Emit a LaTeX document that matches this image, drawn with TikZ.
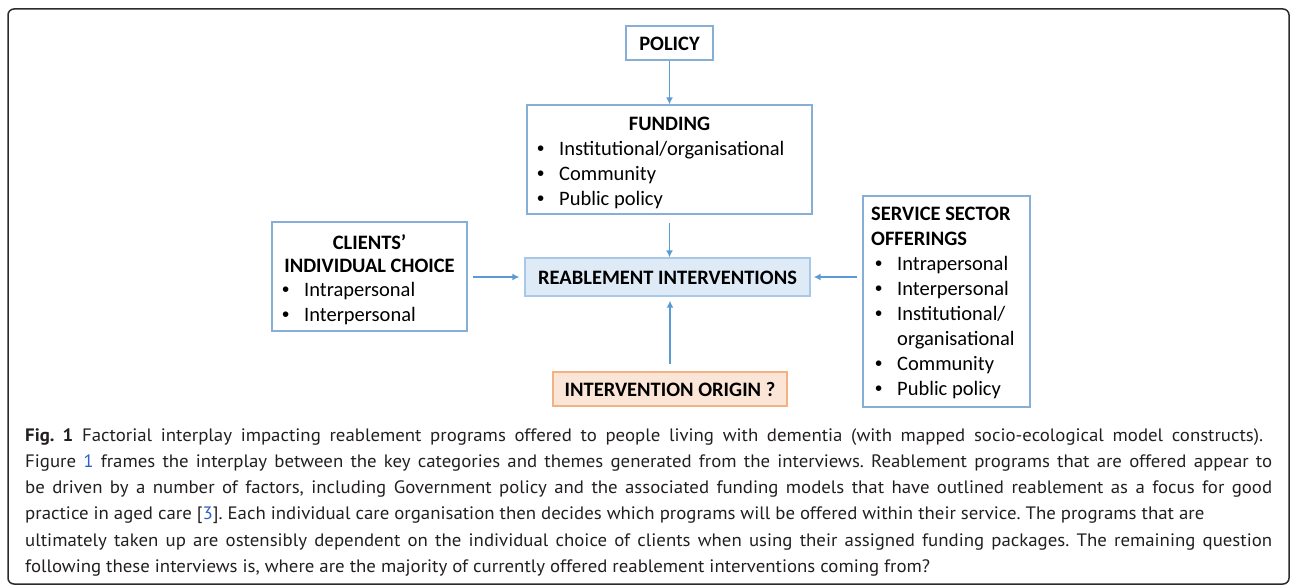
\documentclass[tikz,border=0pt]{standalone}
\usepackage{fontspec}
\usepackage{graphicx}
\usetikzlibrary{arrows.meta}
\setmainfont{Carlito}
\newfontfamily\capfont{PT Sans}
\newfontfamily\bulfont{Liberation Sans}
\frenchspacing
\definecolor{boxline}{HTML}{86AED6}
\definecolor{arrowblue}{HTML}{5B9BD5}
\definecolor{reabfill}{HTML}{DEEBF7}
\definecolor{reabline}{HTML}{A9C8E8}
\definecolor{originfill}{HTML}{FBE5D6}
\definecolor{originline}{HTML}{F4B183}
\definecolor{captext}{HTML}{231F20}
\definecolor{linkblue}{HTML}{2F5FC4}
\definecolor{frame}{HTML}{2B2B2B}
% caption font; its glyphs get a common horizontal squeeze
\newcommand{\capsize}{\capfont\fontsize{18}{24}\selectfont}
\newcommand{\capF}{following these interviews is, where are the majority of currently offered reablement interventions coming from?}
\newlength{\capnat}
% free line (natural spacing) and justified line of a given width
\newcommand{\capline}[1]{\scalebox{\capsx}[1]{#1}}
\newcommand{\capjust}[2]{\pgfmathsetlengthmacro{\capw}{#1/\capsx}\scalebox{\capsx}[1]{\makebox[\capw][s]{#2}}}
% list bullet followed by its tab
\newcommand{\bul}{\makebox[22pt][l]{{\bulfont •}}}
\begin{document}
\settowidth{\capnat}{\capsize\capF}
\pgfmathsetmacro{\capsx}{905/\capnat}
\begin{tikzpicture}[x=1pt,y=-1pt,
  box/.style={draw=boxline,line width=1.3pt,rectangle,inner sep=0pt},
  head/.style={font=\fontsize{20.5}{24}\selectfont\bfseries,inner sep=0pt,anchor=base},
  item/.style={font=\fontsize{20.5}{24}\selectfont,inner sep=0pt,anchor=base west},
  arr/.style={draw=arrowblue,line width=1.8pt,-{Latex[length=7pt,width=7pt]}},
  captionline/.style={font=\capsize,text=captext,inner sep=0pt,anchor=base west}]
\useasboundingbox (0,0) rectangle (1290,586);

% outer frame of the figure panel
\draw[frame,line width=1.5pt,rounded corners=6pt] (8,9) rectangle (1289,584);

% boxes
\node[box,minimum width=87pt,minimum height=34pt] (policy) at (669.5,43) {};
\node[box,minimum width=285pt,minimum height=109pt] (funding) at (669.5,159.5) {};
\node[box,minimum width=195pt,minimum height=109pt] (clients) at (369.5,276.5) {};
\node[box,draw=reabline,fill=reabfill,minimum width=285pt,minimum height=38pt] (reab) at (667.5,277) {};
\node[box,minimum width=167pt,minimum height=211pt] (service) at (946.5,301.5) {};
\node[box,draw=originline,fill=originfill,minimum width=234pt,minimum height=34pt] (origin) at (670,389) {};

% box texts
\node[head] (tpolicy) at (669.5,50.5) {POLICY};
\node[head] (tfund) at (669.5,130.5) {FUNDING};
\node[item] (fb1) at (537,155.5) {\bul Institutional/organisational};
\node[item] (fb2) at (537,180.5) {\bul Community};
\node[item] (fb3) at (537,205.5) {\bul Public policy};

\node[head] (tcl1) at (369.5,249.5) {CLIENTS’};
\node[head] (tcl2) at (369.5,272.5) {INDIVIDUAL CHOICE};
\node[item] (cb1) at (282,296.5) {\bul Intrapersonal};
\node[item] (cb2) at (282,321.5) {\bul Interpersonal};

\node[head] (treab) at (667.5,284.5) {REABLEMENT INTERVENTIONS};
\node[head] (torigin) at (670,396.5) {INTERVENTION ORIGIN ?};

\node[head,anchor=base west] (ts1) at (871,220.5) {SERVICE SECTOR};
\node[head,anchor=base west] (ts2) at (871,245.5) {OFFERINGS};
\node[item] (sb1) at (875,270.5) {\bul Intrapersonal};
\node[item] (sb2) at (875,295.5) {\bul Interpersonal};
\node[item] (sb3) at (875,320.5) {\bul Institutional/};
\node[item] (sb4) at (897,345.5) {organisational};
\node[item] (sb5) at (875,370.5) {\bul Community};
\node[item] (sb6) at (875,395.5) {\bul Public policy};

% connectors
\draw[arr] (policy.south) -- (funding.north);
\draw[arr,shorten <=8pt] (funding.south) -- (funding.south |- reab.north);
\draw[arr,shorten <=5pt,shorten >=5pt] (clients.east |- reab.west) -- (reab.west);
\draw[arr,shorten <=5pt,shorten >=3pt] (service.west |- reab.east) -- (reab.east);
\draw[arr,shorten <=7pt,shorten >=4pt] (origin.north) -- (origin.north |- reab.south);

% caption
\node[captionline] (c1) at (25,441) {\capjust{1238}{\textbf{Fig.\ 1} Factorial interplay impacting reablement programs offered to people living with dementia (with mapped socio-ecological model constructs).}};
\node[captionline] (c2) at (25,467.3) {\capjust{1247}{Figure \textcolor{linkblue}{1} frames the interplay between the key categories and themes generated from the interviews. Reablement programs that are offered appear to}};
\node[captionline] (c3) at (25,493.6) {\capjust{1247}{be driven by a number of factors, including Government policy and the associated funding models that have outlined reablement as a focus for good}};
\node[captionline] (c4) at (25,519.9) {\capline{practice in aged care [\textcolor{linkblue}{3}]. Each individual care organisation then decides which programs will be offered within their service. The programs that are}};
\node[captionline] (c5) at (25,546.2) {\capjust{1247}{ultimately taken up are ostensibly dependent on the individual choice of clients when using their assigned funding packages. The remaining question}};
\node[captionline] (c6) at (25,572.5) {\capline{\capF}};
\end{tikzpicture}
\end{document}
